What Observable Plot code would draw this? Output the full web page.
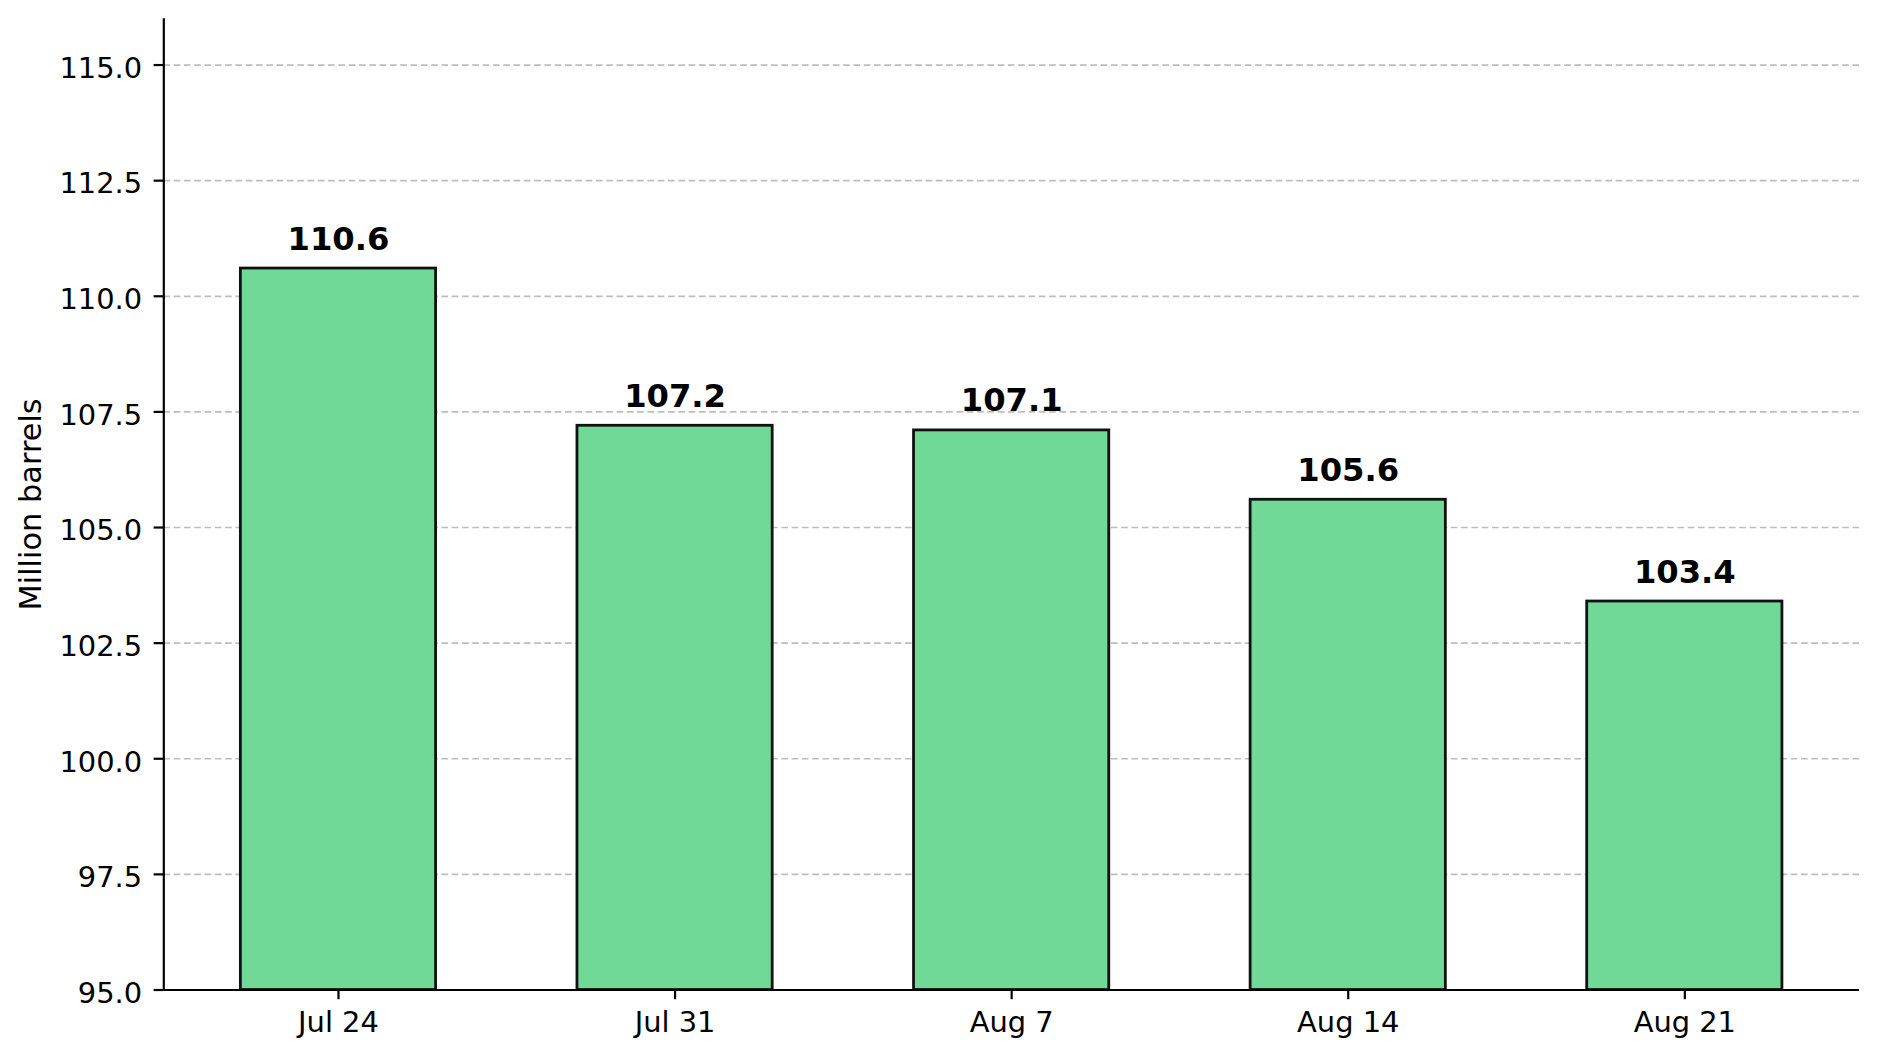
<!DOCTYPE html>
<html>
<head>
<meta charset="utf-8">
<script src="https://cdn.jsdelivr.net/npm/d3@7"></script>
<script src="https://cdn.jsdelivr.net/npm/@observablehq/plot@0.6"></script>
<style>
  html, body { margin: 0; padding: 0; background: #fff; }
</style>
</head>
<body>
<div id="chart"></div>
<script>
const categories = ["Jul 24", "Jul 31", "Aug 7", "Aug 14", "Aug 21"];
const values = [110.6, 107.2, 107.1, 105.6, 103.4];
const yTicks = [95, 97.5, 100, 102.5, 105, 107.5, 110, 112.5, 115];
const yLabel = "Million barrels";

const data = categories.map((c, i) => ({label: c, value: values[i], i}));
const barHalf = 0.29;
const yBase = 95;
const xDomain = [-0.519, categories.length - 1 + 0.519];

const chart = Plot.plot({
  width: 1878,
  height: 1057,
  marginLeft: 163.3,
  marginRight: 19,
  marginTop: 18.3,
  marginBottom: 67.5,
  style: {fontFamily: "DejaVu Sans", background: "#fff", color: "#000"},
  x: {type: "linear", domain: xDomain},
  y: {domain: [95, 116]},
  marks: [
    Plot.gridY(yTicks, {stroke: "#bdbdbd", strokeOpacity: 1, strokeWidth: 1.7, strokeDasharray: "6.7,3.6"}),
    Plot.rectY(data, {
      x1: d => d.i - barHalf,
      x2: d => d.i + barHalf,
      y1: yBase,
      y2: "value",
      fill: "#70d997",
      stroke: "#111",
      strokeWidth: 2.8
    }),
    Plot.text(data, {
      x: "i",
      y: "value",
      text: d => d.value.toFixed(1),
      dy: -19,
      lineAnchor: "bottom",
      fontWeight: "bold",
      fontSize: 32.2,
      fill: "#000"
    }),
    Plot.ruleY([yBase], {stroke: "#000", strokeWidth: 2.2}),
    Plot.ruleX([xDomain[0]], {y1: 95, y2: 116, stroke: "#000", strokeWidth: 2.2}),
    Plot.axisX({
      ticks: categories.map((c, i) => i),
      tickFormat: i => categories[i],
      tickSize: 9.7,
      tickPadding: 12,
      strokeWidth: 2.2,
      fontSize: 28.9,
      label: null
    }),
    Plot.axisY({
      ticks: yTicks,
      tickSize: 9.7,
      strokeWidth: 2.2,
      text: null,
      label: null
    }),
    Plot.axisY({
      ticks: yTicks,
      tickFormat: d3.format(".1f"),
      tickSize: 0,
      tickPadding: 21.7,
      dy: 3.5,
      fontSize: 28.9,
      label: null
    }),
    Plot.text([yLabel], {
      frameAnchor: "left",
      rotate: -90,
      dx: -132.3,
      textAnchor: "middle",
      lineAnchor: "middle",
      fontSize: 30.4,
      fill: "#000"
    })
  ]
});
document.getElementById("chart").appendChild(chart);
</script>
</body>
</html>
